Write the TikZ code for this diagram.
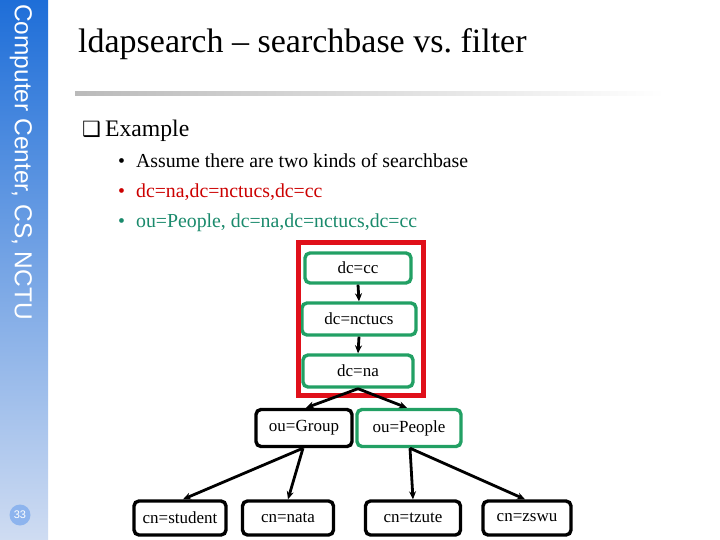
\documentclass[tikz,border=0pt]{standalone}
\usepackage{fontspec}
\setmainfont{Liberation Serif}
\newfontfamily\arialf{Liberation Sans}
\newfontfamily\symf{DejaVu Sans}
\usetikzlibrary{arrows.meta,shapes.geometric}
\definecolor{sidetop}{HTML}{1E6ED8}
\definecolor{sidebot}{HTML}{CFDCF2}
\definecolor{redc}{HTML}{CC0000}
\definecolor{tealc}{HTML}{1A8A6C}
\definecolor{boxgreen}{HTML}{22A064}
\definecolor{boxred}{HTML}{E0101A}
\definecolor{pagec}{HTML}{8DB4EE}
\tikzset{
  tbox/.style={draw=black, line width=3.4pt, rounded corners=5pt, inner sep=0pt, font=\fontsize{17}{20}\selectfont},
  gbox/.style={tbox, draw=boxgreen},
  arr/.style={line width=2.8pt, -{Stealth[length=8pt,width=7pt]}},
  btxt/.style={anchor=base west, font=\fontsize{19.8}{22}\selectfont, inner sep=0pt},
}
\begin{document}
\begin{tikzpicture}[x=1pt,y=-1pt]
\useasboundingbox (0,0) rectangle (720,540);
\fill[white] (0,0) rectangle (720,540);
% sidebar
\shade[top color=sidetop, bottom color=sidebot] (0,0) rectangle (48,540);
\node[rotate=-90, anchor=west, text=white, font=\arialf\fontsize{24.5}{26}\selectfont, inner sep=0pt] (side) at (21,4) {Computer Center, CS, NCTU};
\node[circle, fill=pagec, minimum size=21pt, inner sep=0pt, text=white, font=\arialf\fontsize{11}{12}\selectfont] (page) at (20,515) {33};
% title
\node[anchor=base west, inner sep=0pt, font=\fontsize{34}{38}\selectfont] (title) at (78,53) {ldapsearch – searchbase vs.\ filter};
\shade[left color=black!27, right color=white] (75,92) rectangle (665,96);
% example
\node[anchor=base west, inner sep=0pt, font=\fontsize{23.7}{26}\selectfont] (ex) at (82,137) {{\symf\fontsize{21}{24}\selectfont ❑}\hspace{4pt}Example};
\node[btxt] (b1) at (118,168) {•\hspace{11pt}Assume there are two kinds of searchbase};
\node[btxt, text=redc] (b2) at (118,197) {•\hspace{11pt}dc=na,dc=nctucs,dc=cc};
\node[btxt, text=tealc] (b3) at (118,228) {•\hspace{11pt}ou=People, dc=na,dc=nctucs,dc=cc};
% tree
\node[gbox, minimum width=106pt, minimum height=30pt] (cc) at (358,268) {dc=cc};
\node[gbox, minimum width=114pt, minimum height=32pt] (nctucs) at (359,319) {dc=nctucs};
\node[gbox, minimum width=110pt, minimum height=32pt] (na) at (358,371) {dc=na};
\draw[boxred, line width=5pt] (298,242) rectangle (423,395);
\node[tbox, minimum width=96pt, minimum height=37pt] (grp) at (304,428) {ou=Group};
\node[gbox, minimum width=104pt, minimum height=37pt] (ppl) at (409,428) {ou=People};
\node[tbox, minimum width=92pt, minimum height=34pt] (stu) at (180,518) {cn=student};
\node[tbox, minimum width=91pt, minimum height=34pt] (nata) at (288,518) {cn=nata};
\node[tbox, minimum width=95pt, minimum height=34pt] (tzute) at (413,518) {cn=tzute};
\node[tbox, minimum width=88pt, minimum height=34pt] (zswu) at (527,518) {cn=zswu};
\draw[arr] (cc.south) -- (nctucs.north);
\draw[arr] (nctucs.south) -- (na.north);
\draw[arr] (na.south) -- ([xshift=2pt]grp.north);
\draw[arr] (na.south) -- ([xshift=-2pt]ppl.north);
\draw[arr] ([xshift=-1pt]grp.south) -- ([xshift=3pt]stu.north);
\draw[arr] ([xshift=-1pt]grp.south) -- (nata.north);
\draw[arr] ([xshift=1pt]ppl.south) -- (tzute.north);
\draw[arr] ([xshift=1pt]ppl.south) -- ([xshift=-2pt]zswu.north);
\end{tikzpicture}
\end{document}
